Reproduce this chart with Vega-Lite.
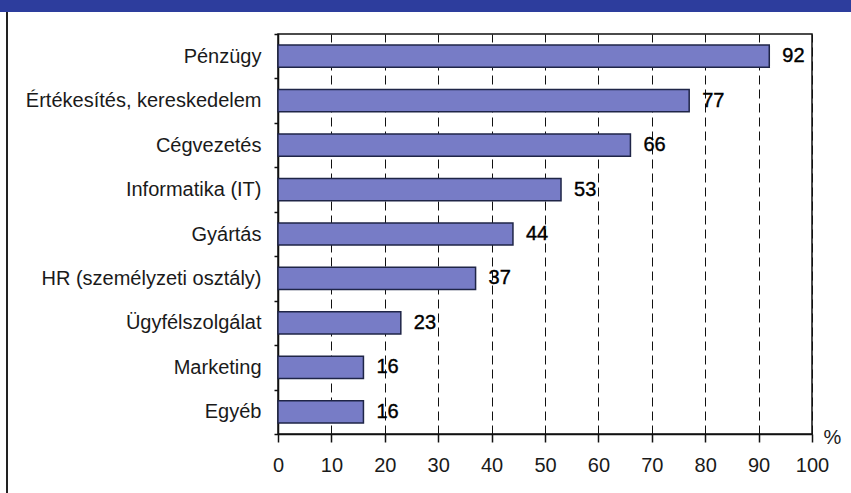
{
  "$schema": "https://vega.github.io/schema/vega-lite/v6.json",
  "padding": 0,
  "background": "white",
  "spacing": 0,
  "bounds": "flush",
  "config": {
    "font": "Liberation Sans",
    "view": {"stroke": null}
  },
  "vconcat": [
    {
      "width": 851,
      "height": 12,
      "view": {"fill": "#2d3d9d", "stroke": null},
      "data": {"values": []},
      "mark": {"type": "point", "opacity": 0}
    },
    {
      "spacing": 0,
      "bounds": "flush",
      "hconcat": [
        {
          "width": 6,
          "height": 481,
          "data": {"values": []},
          "mark": {"type": "point", "opacity": 0}
        },
        {
          "width": 2,
          "height": 481,
          "view": {"fill": "#222222", "stroke": null},
          "data": {"values": []},
          "mark": {"type": "point", "opacity": 0}
        },
        {
          "width": 270,
          "height": 481,
          "data": {"values": []},
          "mark": {"type": "point", "opacity": 0}
        },
        {
          "spacing": 0,
          "bounds": "flush",
          "vconcat": [
            {
              "width": 534,
              "height": 22,
              "data": {"values": []},
              "mark": {"type": "point", "opacity": 0}
            },
            {
              "width": 534,
              "height": 400,
              "view": {"stroke": "#111111", "strokeWidth": 1.5},
              "data": {
                "values": [
                  {"terulet": "Pénzügy", "szazalek": 92},
                  {"terulet": "Értékesítés, kereskedelem", "szazalek": 77},
                  {"terulet": "Cégvezetés", "szazalek": 66},
                  {"terulet": "Informatika (IT)", "szazalek": 53},
                  {"terulet": "Gyártás", "szazalek": 44},
                  {"terulet": "HR (személyzeti osztály)", "szazalek": 37},
                  {"terulet": "Ügyfélszolgálat", "szazalek": 23},
                  {"terulet": "Marketing", "szazalek": 16},
                  {"terulet": "Egyéb", "szazalek": 16}
                ]
              },
              "encoding": {
                "y": {
                  "field": "terulet",
                  "type": "nominal",
                  "sort": null,
                  "scale": {"paddingInner": 0, "paddingOuter": 0},
                  "axis": {
                    "title": null,
                    "tickBand": "extent",
                    "tickSize": 4,
                    "tickColor": "#111111",
                    "tickWidth": 1.5,
                    "domainColor": "#111111",
                    "domainWidth": 1.5,
                    "labelPadding": 13,
                    "labelFontSize": 20,
                    "labelColor": "#1a1a1a",
                    "labelLimit": 400
                  }
                },
                "x": {
                  "field": "szazalek",
                  "type": "quantitative",
                  "scale": {"domain": [0, 100], "nice": false},
                  "axis": {
                    "title": "%",
                    "titleFontSize": 20,
                    "titleFontWeight": "normal",
                    "titleColor": "#1a1a1a",
                    "titleAnchor": "start",
                    "titleAlign": "left",
                    "titleBaseline": "middle",
                    "titleX": 545,
                    "titleY": 3,
                    "values": [0, 10, 20, 30, 40, 50, 60, 70, 80, 90, 100],
                    "grid": true,
                    "gridColor": "#111111",
                    "gridDash": [9, 5],
                    "gridWidth": 1,
                    "tickSize": 8,
                    "tickColor": "#111111",
                    "tickWidth": 1.5,
                    "domainColor": "#111111",
                    "domainWidth": 1.5,
                    "labelPadding": 13,
                    "labelFontSize": 20,
                    "labelColor": "#1a1a1a",
                    "labelFlush": false
                  }
                }
              },
              "layer": [
                {
                  "mark": {
                    "type": "bar",
                    "height": {"band": 0.5},
                    "fill": "#777cc6",
                    "stroke": "#1f2547",
                    "strokeWidth": 1.5
                  }
                },
                {
                  "mark": {
                    "type": "text",
                    "align": "left",
                    "baseline": "middle",
                    "dx": 13,
                    "fontSize": 20,
                    "color": "#000000",
                    "stroke": "#000000",
                    "strokeWidth": 0.4
                  },
                  "encoding": {
                    "text": {"field": "szazalek", "type": "quantitative"}
                  }
                }
              ]
            }
          ]
        },
        {
          "width": 39,
          "height": 481,
          "data": {"values": []},
          "mark": {"type": "point", "opacity": 0}
        }
      ]
    }
  ]
}
